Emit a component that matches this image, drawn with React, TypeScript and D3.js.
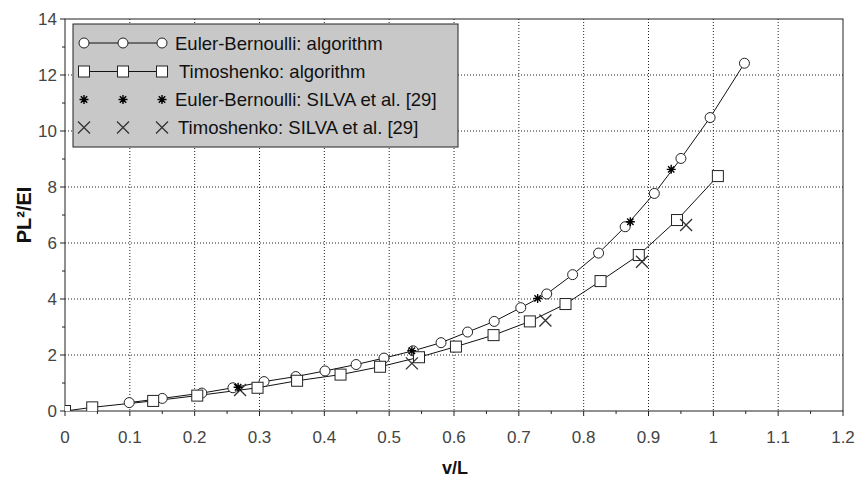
import React from 'react';
import * as d3 from 'd3';

// Euler-Bernoulli: algorithm (circles)
const ebAlgX = [0.099, 0.15, 0.211, 0.259, 0.307, 0.356, 0.401, 0.449, 0.492, 0.537, 0.58, 0.621, 0.662, 0.703, 0.743, 0.783, 0.823, 0.864, 0.909, 0.95, 0.995, 1.048];
const ebAlgY = [0.3, 0.45, 0.64, 0.83, 1.05, 1.23, 1.43, 1.66, 1.89, 2.15, 2.44, 2.82, 3.2, 3.69, 4.18, 4.87, 5.64, 6.58, 7.77, 9.02, 10.48, 12.42];
// Timoshenko: algorithm (squares)
const tiAlgX = [0, 0.042, 0.136, 0.204, 0.297, 0.358, 0.425, 0.486, 0.546, 0.603, 0.661, 0.717, 0.772, 0.826, 0.885, 0.944, 1.007];
const tiAlgY = [0, 0.13, 0.36, 0.55, 0.83, 1.08, 1.3, 1.58, 1.92, 2.3, 2.71, 3.2, 3.82, 4.64, 5.57, 6.82, 8.39];
// SILVA et al. [29]
const ebRefX = [0.267, 0.535, 0.729, 0.872, 0.935];
const ebRefY = [0.85, 2.15, 4.02, 6.76, 8.63];
const tiRefX = [0.27, 0.535, 0.741, 0.89, 0.958];
const tiRefY = [0.75, 1.7, 3.23, 5.33, 6.64];

const legendLabels = [
  'Euler-Bernoulli: algorithm',
  'Timoshenko: algorithm',
  'Euler-Bernoulli: SILVA et al. [29]',
  'Timoshenko: SILVA et al. [29]',
];

const font = 'Liberation Sans, Arial, sans-serif';

const Circle = ({ x, y }) => <circle cx={x} cy={y} r={5} fill="#fff" stroke="#222" strokeWidth={1} />;
const Square = ({ x, y }) => <rect x={x - 5.5} y={y - 5.5} width={11} height={11} fill="#fff" stroke="#222" strokeWidth={1} />;
const Star = ({ x, y }) => {
  const r = 4.5;
  const arms = d3.range(4).map((i) => {
    const a = (i * Math.PI) / 4;
    return `M${x - r * Math.cos(a)},${y - r * Math.sin(a)}L${x + r * Math.cos(a)},${y + r * Math.sin(a)}`;
  });
  return <path d={arms.join('')} stroke="#000" strokeWidth={1.4} fill="none" />;
};
const Cross = ({ x, y }) => {
  const r = 6;
  return <path d={`M${x - r},${y - r}L${x + r},${y + r}M${x - r},${y + r}L${x + r},${y - r}`} stroke="#333" strokeWidth={1.3} fill="none" />;
};

const App = () => {
  const Width = 855;
  const Height = 479;
  const margin = { top: 19, right: 12, bottom: 68, left: 65 };
  const chartWidth = Width - margin.left - margin.right;
  const chartHeight = Height - margin.top - margin.bottom;

  const xScale = d3.scaleLinear().domain([0, 1.2]).range([0, chartWidth]);
  const yScale = d3.scaleLinear().domain([0, 14]).range([chartHeight, 0]);

  const xMajor = d3.range(0, 13).map((i) => i / 10);
  const xMinor = d3.range(0, 12).map((i) => i / 10 + 0.05);
  const yMajor = d3.range(0, 15, 2);
  const yMinor = d3.range(1, 14, 2);

  const line = d3.line().x((d) => xScale(d[0])).y((d) => yScale(d[1]));
  const ebPts = ebAlgX.map((x, i) => [x, ebAlgY[i]]);
  const tiPts = tiAlgX.map((x, i) => [x, tiAlgY[i]]);

  const fmt = (v) => (v === 0 ? '0' : d3.format('~g')(v));

  const legendX = 73 - margin.left;
  const legendY = 24 - margin.top;
  const symXs = [84, 123, 162].map((v) => v - margin.left);
  const rowYs = [43, 71.5, 99.5, 127.5].map((v) => v - margin.top);
  const textOffsets = [13, 17, 13, 16];

  return (
    <svg width={Width} height={Height} style={{ position: 'absolute', left: 0, top: 0, background: '#fff' }}>
      <defs>
        <clipPath id="plotClip">
          <rect x={0} y={0} width={chartWidth} height={chartHeight} />
        </clipPath>
      </defs>
      <g transform={`translate(${margin.left}, ${margin.top})`}>
        {/* grid */}
        {xMajor.slice(1, -1).map((v) => (
          <line key={'gx' + v} x1={xScale(v)} x2={xScale(v)} y1={0} y2={chartHeight} stroke="#222" strokeWidth={1} strokeDasharray="1,2" />
        ))}
        {yMajor.slice(1, -1).map((v) => (
          <line key={'gy' + v} x1={0} x2={chartWidth} y1={yScale(v)} y2={yScale(v)} stroke="#222" strokeWidth={1} strokeDasharray="1,2" />
        ))}

        {/* frame */}
        <rect x={0} y={0} width={chartWidth} height={chartHeight} fill="none" stroke="#222" strokeWidth={1} />

        {/* ticks */}
        {xMajor.map((v) => (
          <line key={'tx' + v} x1={xScale(v)} x2={xScale(v)} y1={chartHeight} y2={chartHeight + 5} stroke="#222" />
        ))}
        {xMinor.map((v) => (
          <line key={'mx' + v} x1={xScale(v)} x2={xScale(v)} y1={chartHeight} y2={chartHeight + 3} stroke="#222" />
        ))}
        {yMajor.map((v) => (
          <line key={'ty' + v} x1={-5} x2={0} y1={yScale(v)} y2={yScale(v)} stroke="#222" />
        ))}
        {yMinor.map((v) => (
          <line key={'my' + v} x1={-3} x2={0} y1={yScale(v)} y2={yScale(v)} stroke="#222" />
        ))}
        {xMajor.map((v) => (
          <text key={'lx' + v} x={xScale(v)} y={chartHeight + 32} textAnchor="middle" fontFamily={font} fontSize={17} fill="#444">
            {fmt(v)}
          </text>
        ))}
        {yMajor.map((v) => (
          <text key={'ly' + v} x={-8} y={yScale(v) + 6} textAnchor="end" fontFamily={font} fontSize={17} fill="#444">
            {v}
          </text>
        ))}

        {/* axis titles */}
        <text x={chartWidth / 2 + 1} y={chartHeight + 63} textAnchor="middle" fontFamily={font} fontSize={18} fontWeight="bold" fill="#111">
          v/L
        </text>
        <text transform={`translate(${-34}, ${chartHeight / 2}) rotate(-90)`} textAnchor="middle" fontFamily={font} fontSize={20} fontWeight="bold" fill="#111">
          PL²/EI
        </text>

        {/* data */}
        <g clipPath="url(#plotClip)">
          <path d={line(ebPts)} fill="none" stroke="#111" strokeWidth={1} />
          <path d={line(tiPts)} fill="none" stroke="#111" strokeWidth={1} />
          {ebPts.map((d, i) => <Circle key={'c' + i} x={xScale(d[0])} y={yScale(d[1])} />)}
          {tiPts.map((d, i) => <Square key={'s' + i} x={xScale(d[0])} y={yScale(d[1])} />)}
          {tiRefX.map((x, i) => <Cross key={'x' + i} x={xScale(x)} y={yScale(tiRefY[i])} />)}
          {ebRefX.map((x, i) => <Star key={'a' + i} x={xScale(x)} y={yScale(ebRefY[i])} />)}
        </g>

        {/* legend */}
        <g>
          <rect x={legendX} y={legendY} width={385} height={123} fill="#c8c8c8" stroke="#222" strokeWidth={1} />
          {legendLabels.map((label, i) => {
            const y = rowYs[i];
            return (
              <g key={label}>
                {i < 2 && <line x1={symXs[0]} x2={symXs[2]} y1={y} y2={y} stroke="#111" strokeWidth={1} />}
                {symXs.map((sx, j) =>
                  i === 0 ? <Circle key={j} x={sx} y={y} /> :
                  i === 1 ? <Square key={j} x={sx} y={y} /> :
                  i === 2 ? <Star key={j} x={sx} y={y} /> :
                  <Cross key={j} x={sx} y={y} />
                )}
                <text x={symXs[2] + textOffsets[i]} y={y + 6.5} fontFamily={font} fontSize={18.5} fill="#111">
                  {label}
                </text>
              </g>
            );
          })}
        </g>
      </g>
    </svg>
  );
};

export default App;
